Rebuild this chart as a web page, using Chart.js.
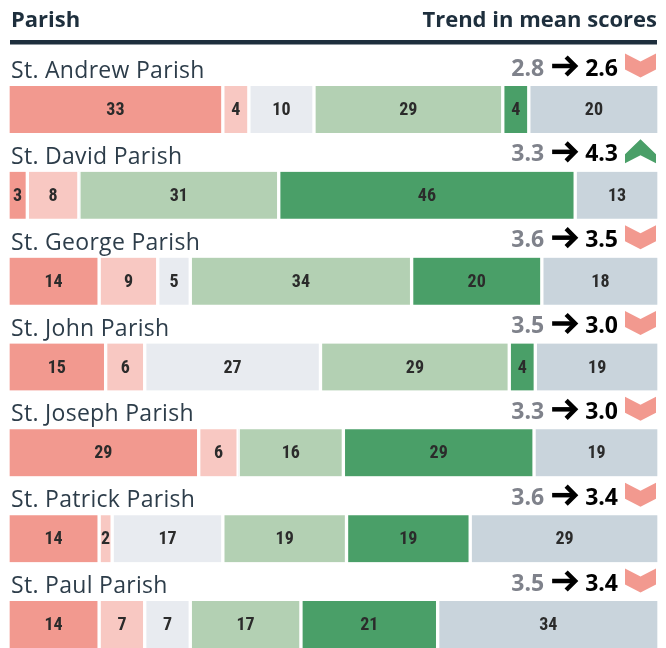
<!DOCTYPE html>
<html>
<head>
<meta charset="utf-8">
<script src="https://cdn.jsdelivr.net/npm/chart.js@4.4.1/dist/chart.umd.min.js"></script>
<style>
  html, body { margin: 0; padding: 0; background: #ffffff; }
  #wrap { width: 666px; height: 648px; }
</style>
</head>
<body>
<div id="wrap"><canvas id="parishChart" width="666" height="648"></canvas></div>
<script>
// Data
const parishes = ['St. Andrew Parish', 'St. David Parish', 'St. George Parish', 'St. John Parish',
                  'St. Joseph Parish', 'St. Patrick Parish', 'St. Paul Parish'];
const veryNegative = [33, 3, 14, 15, 29, 14, 14];
const negative = [4, 8, 9, 6, 6, 2, 7];
const neutral = [10, 0, 5, 27, 0, 17, 7];
const positive = [29, 31, 34, 29, 16, 19, 17];
const veryPositive = [4, 46, 20, 4, 29, 19, 21];
const dontKnow = [20, 13, 18, 19, 19, 29, 34];
const scoreBefore = [2.8, 3.3, 3.6, 3.5, 3.3, 3.6, 3.5];
const scoreAfter = [2.6, 4.3, 3.5, 3.0, 3.0, 3.4, 3.4];

const seriesNames = ['Very negative', 'Negative', 'Neutral', 'Positive', 'Very positive', "Don't know"];
const seriesValues = [veryNegative, negative, neutral, positive, veryPositive, dontKnow];
const seriesColors = ['#f2998f', '#f8c8c2', '#e8ebf0', '#b3d0b3', '#4a9f68', '#c9d4dc'];

// each bar fills the full width, so share of the row total
const rowTotals = parishes.map((p, i) => seriesValues.reduce((s, arr) => s + arr[i], 0));

const DARK = '#1e2f3d';
const DOWN = '#f2998f';
const UP = '#4a9f68';

function drawChevron(ctx, right, cy, up, color) {
    const w = 31, h = 24, t = 16;
    const l = right - w;
    const top = cy - h / 2;
    ctx.save();
    ctx.fillStyle = color;
    ctx.beginPath();
    if (up) {
        ctx.moveTo(l, top + h - t + 7);
        ctx.lineTo(l + w / 2, top);
        ctx.lineTo(right, top + h - t + 7);
        ctx.lineTo(right, top + h);
        ctx.lineTo(l + w / 2, top + h - 8);
        ctx.lineTo(l, top + h);
    } else {
        ctx.moveTo(l, top);
        ctx.lineTo(l + w / 2, top + 8);
        ctx.lineTo(right, top);
        ctx.lineTo(right, top + t);
        ctx.lineTo(l + w / 2, top + h);
        ctx.lineTo(l, top + t);
    }
    ctx.closePath();
    ctx.fill();
    ctx.restore();
}

function drawArrow(ctx, left, cy) {
    ctx.save();
    ctx.strokeStyle = '#000000';
    ctx.lineWidth = 4.5;
    ctx.lineJoin = 'miter';
    ctx.beginPath();
    ctx.moveTo(left, cy);
    ctx.lineTo(left + 22, cy);
    ctx.stroke();
    ctx.beginPath();
    ctx.moveTo(left + 14, cy - 9);
    ctx.lineTo(left + 23, cy);
    ctx.lineTo(left + 14, cy + 9);
    ctx.stroke();
    ctx.restore();
}

const overlay = {
    id: 'overlay',
    afterDatasetsDraw(chart) {
        const ctx = chart.ctx;
        const yScale = chart.scales.y;

        // numbers inside the segments
        ctx.save();
        ctx.font = 'bold 18px "Roboto Condensed", "Liberation Sans Narrow", "DejaVu Sans Condensed", Roboto, sans-serif';
        ctx.fillStyle = '#2b2b2b';
        ctx.textAlign = 'center';
        ctx.textBaseline = 'middle';
        chart.data.datasets.forEach((ds, di) => {
            chart.getDatasetMeta(di).data.forEach((bar, i) => {
                const v = seriesValues[di][i];
                if (!v) return;
                ctx.fillText(String(v), (bar.x + bar.base) / 2, bar.y + 1);
            });
        });
        ctx.restore();

        // header
        ctx.save();
        ctx.fillStyle = DARK;
        ctx.font = 'bold 22px "Open Sans", sans-serif';
        ctx.textBaseline = 'alphabetic';
        ctx.textAlign = 'left';
        ctx.fillText('Parish', 11, 27);
        ctx.textAlign = 'right';
        ctx.fillText('Trend in mean scores', 657, 27);
        ctx.fillRect(10, 40, 647, 4.5);
        ctx.restore();

        // row titles and trend
        parishes.forEach((name, i) => {
            const cy = yScale.getPixelForValue(i);
            const base = cy - 31.5;
            ctx.save();
            ctx.textBaseline = 'alphabetic';
            ctx.font = '23px "Open Sans", sans-serif';
            ctx.letterSpacing = '0.3px';
            ctx.fillStyle = '#2d3d4a';
            ctx.textAlign = 'left';
            ctx.fillText(name, 11, base);
            ctx.letterSpacing = '0px';

            const up = scoreAfter[i] > scoreBefore[i];
            drawChevron(ctx, 656, cy - 44, up, up ? UP : DOWN);

            const numBase = cy - 34;
            const mid = cy - 43.5;
            ctx.font = 'bold 23px "Open Sans", sans-serif';
            ctx.textAlign = 'right';
            ctx.fillStyle = '#000000';
            const after = scoreAfter[i].toFixed(1);
            ctx.fillText(after, 618, numBase);
            const afterW = ctx.measureText(after).width;
            const arrowLeft = 618 - afterW - 33;
            drawArrow(ctx, arrowLeft, mid);
            ctx.fillStyle = '#7f828b';
            ctx.fillText(scoreBefore[i].toFixed(1), arrowLeft - 8, numBase);
            ctx.restore();
        });
    }
};

new Chart(document.getElementById('parishChart'), {
    type: 'bar',
    data: {
        labels: parishes,
        datasets: seriesNames.map((name, di) => ({
            label: name,
            data: seriesValues[di].map((v, i) => v / rowTotals[i] * 100),
            backgroundColor: seriesColors[di],
            borderColor: '#ffffff',
            borderWidth: { left: 2, right: 2, top: 0, bottom: 0 },
            borderSkipped: false,
            barThickness: 47,
            clip: false
        }))
    },
    options: {
        indexAxis: 'y',
        responsive: false,
        animation: false,
        layout: {
            padding: { left: 8, right: 7, top: 109.5, bottom: 23.5 }
        },
        plugins: {
            legend: { display: false },
            tooltip: { enabled: false },
            title: { display: false }
        },
        scales: {
            x: {
                stacked: true,
                min: 0,
                max: 100,
                display: false
            },
            y: {
                stacked: true,
                offset: false,
                display: false
            }
        }
    },
    plugins: [overlay]
});
</script>
</body>
</html>
